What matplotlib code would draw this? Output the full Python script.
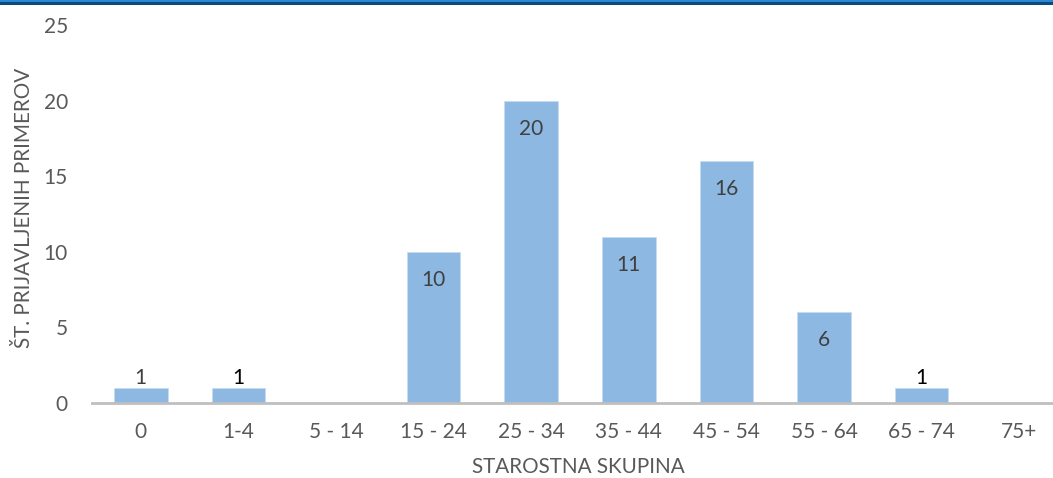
import matplotlib
matplotlib.use("Agg")
import matplotlib.pyplot as plt
from matplotlib.patches import Rectangle

categories = ["0", "1-4", "5 - 14", "15 - 24", "25 - 34", "35 - 44", "45 - 54", "55 - 64", "65 - 74", "75+"]
values = [1, 1, 0, 10, 20, 11, 16, 6, 1, 0]
yticks = [0, 5, 10, 15, 20, 25]

plt.rcParams['font.family'] = ['Lato', 'DejaVu Sans']

W, H = 1053, 478
fig = plt.figure(figsize=(W / 100, H / 100), dpi=100)
renderer = fig.canvas.get_renderer()


def fit_size(text, target_px, base=20, rotation=0):
    t = fig.text(0, 0, text, fontsize=base, rotation=rotation)
    bb = t.get_window_extent(renderer)
    t.remove()
    size = bb.height if rotation == 90 else bb.width
    return base * target_px / size


tick_fs = 0.5 * (fit_size("65 - 74", 70) + fit_size("25", 23))
xlab_fs = fit_size("STAROSTNA SKUPINA", 208)
ylab_fs = fit_size("ŠT. PRIJAVLJENIH PRIMEROV", 287, rotation=90)
lab_fs = 0.5 * (xlab_fs + ylab_fs)

# top decorative band
fig.add_artist(Rectangle((0, 1 - 2 / H), 1, 2 / H, transform=fig.transFigure,
                         color="#2a87d0", lw=0, zorder=10))
fig.add_artist(Rectangle((0, 1 - 5 / H), 1, 3 / H, transform=fig.transFigure,
                         color="#0b4a80", lw=0, zorder=10))

left_px, right_px = 92, 1053
bottom_px, top_px = 403, 25
ax = fig.add_axes([left_px / W, (H - bottom_px) / H,
                   (right_px - left_px) / W, (bottom_px - top_px) / H])

x = list(range(len(categories)))
step_px = 97.6
ax.set_xlim(-0.5, -0.5 + (right_px - left_px) / step_px)
ax.set_ylim(0, 25)

ax.bar(x, values, width=0.55, color="#8db8e2", edgecolor="#c5dcf1", linewidth=0.6, zorder=2)

for xi, v in zip(x, values):
    if v == 0:
        continue
    if v >= 5:
        ax.annotate(str(v), (xi, v), xytext=(0, -28), textcoords="offset pixels",
                    ha="center", va="center", fontsize=tick_fs, color="#404040")
    else:
        ax.annotate(str(v), (xi, v), xytext=(0, 10), textcoords="offset pixels",
                    ha="center", va="center", fontsize=tick_fs,
                    color="#000000" if xi in (1, 8) else "#404040")

ax.set_xticks(x)
ax.set_xticklabels(categories, fontsize=tick_fs, color="#595959")
ax.set_yticks(yticks)
ax.set_yticklabels([str(t) for t in yticks], fontsize=tick_fs, color="#595959")
ax.tick_params(axis="both", length=0)
ax.tick_params(axis="x", pad=14)
ax.tick_params(axis="y", pad=24 * 72 / 100)

for s in ["top", "right", "left"]:
    ax.spines[s].set_visible(False)
ax.spines["bottom"].set_color("#bfbfbf")
ax.spines["bottom"].set_linewidth(2)

fig.text(578 / W, 1 - 467 / H, "STAROSTNA SKUPINA", ha="center", va="center",
         fontsize=lab_fs, color="#595959")
fig.text(24 / W, 1 - 208 / H, "ŠT. PRIJAVLJENIH PRIMEROV", ha="center", va="center",
         rotation=90, fontsize=lab_fs, color="#595959")

fig.savefig("out.png", dpi=100)
